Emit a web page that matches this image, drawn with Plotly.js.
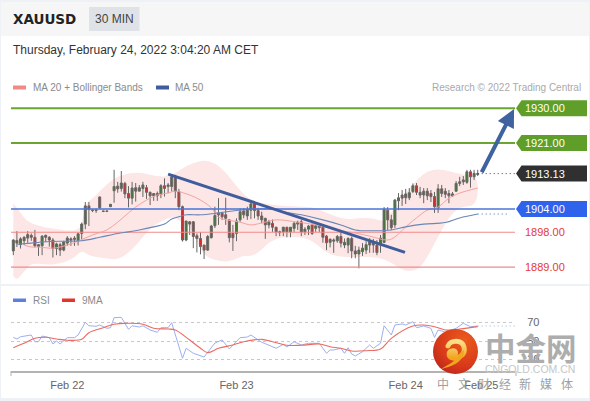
<!DOCTYPE html>
<html><head><meta charset="utf-8">
<script src="https://cdn.plot.ly/plotly-3.0.0.min.js"></script>
<style>html,body{margin:0;padding:0;background:#eef1f5}#c{width:590px;height:401px}</style>
</head><body><div id="c"></div>
<script>
var barIdx=[];for(var n=0;n<130;n++)barIdx.push(n);
var highs=[1896.2,1898.3,1896.7,1897.0,1898.3,1897.7,1898.6,1895.0,1897.2,1897.4,1897.0,1896.5,1895.3,1895.3,1895.8,1897.0,1896.7,1897.0,1897.9,1900.5,1905.8,1905.8,1903.9,1904.1,1907.2,1903.5,1903.5,1905.3,1914.1,1911.0,1913.8,1911.0,1909.9,1911.0,1910.7,1910.2,1911.0,1910.2,1908.5,1908.0,1908.5,1910.4,1911.9,1910.7,1912.9,1912.8,1909.2,1904.9,1900.9,1900.9,1900.9,1897.7,1898.0,1894.7,1897.3,1899.9,1904.6,1906.8,1903.3,1906.9,1901.2,1899.9,1901.6,1904.2,1904.2,1904.6,1905.9,1905.9,1904.3,1903.3,1901.7,1901.2,1901.3,1899.4,1898.4,1899.4,1899.4,1899.3,1900.7,1901.0,1901.2,1899.3,1899.9,1900.3,1899.9,1900.3,1899.4,1897.3,1896.4,1896.4,1897.3,1897.9,1896.4,1896.7,1896.9,1894.5,1894.3,1895.2,1895.7,1896.5,1896.3,1896.0,1897.3,1904.5,1904.5,1902.5,1906.6,1908.1,1908.9,1909.2,1909.4,1910.6,1910.7,1909.7,1909.4,1909.4,1908.9,1908.4,1910.4,1910.2,1909.4,1908.9,1908.4,1911.2,1912.3,1912.5,1914.1,1914.1,1914.1,1914.1];
var lows=[1892.1,1894.2,1893.8,1894.7,1895.3,1895.8,1894.1,1891.9,1892.1,1895.5,1894.3,1891.5,1892.1,1891.9,1893.1,1894.5,1894.5,1894.5,1894.6,1896.2,1898.8,1899.6,1903.2,1903.0,1904.1,1903.2,1903.2,1904.5,1905.6,1908.2,1908.5,1906.8,1904.4,1905.2,1905.9,1908.6,1907.1,1906.6,1905.0,1906.1,1906.1,1906.8,1907.2,1908.1,1908.5,1906.8,1903.7,1895.6,1895.7,1897.3,1893.9,1892.8,1892.3,1891.1,1893.2,1896.4,1899.1,1899.9,1901.2,1899.9,1895.4,1893.2,1895.7,1900.7,1901.6,1901.2,1901.4,1901.6,1901.2,1900.3,1896.3,1899.0,1898.1,1897.0,1897.0,1897.0,1896.7,1896.7,1898.1,1898.6,1897.0,1897.3,1897.3,1897.3,1898.1,1898.1,1895.3,1893.4,1894.1,1892.7,1895.3,1894.1,1893.9,1892.6,1891.3,1891.3,1888.7,1891.9,1892.4,1892.7,1892.7,1892.1,1892.7,1895.2,1898.6,1898.6,1899.1,1903.7,1904.8,1905.3,1906.3,1908.1,1907.6,1906.8,1905.5,1906.3,1905.8,1903.0,1903.0,1907.1,1906.8,1905.5,1907.1,1908.4,1909.9,1910.2,1910.5,1909.5,1911.5,1912.5];
var opens=[1893.2,1895.9,1894.8,1895.8,1896.5,1897.2,1896.7,1894.8,1894.5,1897.2,1896.7,1896.0,1893.8,1894.8,1893.4,1895.2,1896.3,1896.5,1895.8,1897.7,1900.1,1904.8,1903.6,1903.6,1907.1,1903.5,1903.5,1904.6,1908.7,1909.9,1909.3,1910.6,1908.0,1906.8,1909.5,1908.6,1909.3,1909.5,1908.3,1908.0,1907.4,1907.8,1910.0,1909.8,1909.8,1912.1,1908.5,1904.6,1896.0,1900.7,1900.7,1897.1,1896.4,1894.7,1893.4,1896.6,1899.7,1902.5,1902.9,1902.5,1901.2,1897.7,1897.7,1901.2,1903.5,1902.2,1903.7,1905.3,1903.6,1902.2,1901.6,1899.9,1900.3,1899.3,1897.9,1898.1,1899.3,1898.1,1899.0,1900.1,1900.7,1898.1,1898.8,1899.9,1899.0,1899.7,1899.3,1897.0,1895.4,1895.7,1895.8,1896.9,1894.7,1894.7,1896.4,1893.2,1892.4,1893.0,1893.4,1894.7,1895.4,1894.7,1894.7,1895.4,1903.7,1901.2,1899.9,1906.1,1907.6,1906.9,1906.9,1908.5,1910.0,1908.3,1907.6,1908.6,1908.0,1907.2,1904.3,1909.2,1908.6,1907.4,1907.4,1908.6,1910.6,1911.0,1910.9,1913.6,1912.3,1912.9];
var closes=[1896.0,1895.2,1896.3,1896.7,1897.4,1896.7,1894.5,1894.3,1897.0,1896.7,1896.0,1893.8,1895.0,1893.4,1895.5,1896.5,1896.0,1896.2,1897.6,1900.1,1904.8,1903.9,1903.7,1903.7,1904.3,1903.4,1903.4,1905.2,1909.8,1909.2,1910.7,1907.9,1906.8,1909.4,1908.6,1909.5,1910.2,1908.3,1907.4,1907.4,1908.0,1910.0,1909.3,1910.2,1912.3,1908.5,1904.6,1896.0,1900.9,1900.1,1896.9,1896.4,1894.3,1893.4,1896.9,1899.6,1902.3,1902.9,1902.0,1901.6,1896.6,1896.6,1900.9,1903.3,1902.5,1903.7,1905.3,1903.6,1902.2,1901.2,1899.9,1900.7,1899.3,1898.1,1898.1,1899.3,1898.1,1899.3,1900.3,1900.6,1898.1,1898.8,1899.6,1897.7,1899.7,1899.2,1896.7,1895.3,1896.2,1896.0,1896.9,1895.2,1895.4,1896.4,1893.2,1892.4,1893.4,1893.9,1894.8,1895.6,1894.7,1892.8,1896.5,1903.9,1901.2,1899.2,1906.3,1906.9,1906.8,1907.9,1908.2,1910.0,1908.3,1907.6,1908.6,1907.4,1907.2,1904.6,1909.2,1908.0,1907.8,1908.0,1907.9,1910.6,1911.0,1911.5,1913.6,1912.3,1913.2,1913.13];

var upperIdx=[0,2,4,8,12,16,18,19,20,22,24,28,32,36,40,44,47,50,53,56,59,62,65,69,73,79,83,87,92,96,100,103,105,107,109,112,115,118,121,125,129];
var upperBand=[1905.5,1903.0,1900.6,1899.4,1898.8,1898.3,1898.8,1899.6,1905.5,1906.6,1908.6,1912.0,1913.3,1913.4,1912.3,1912.5,1914.6,1915.9,1916.6,1915.9,1913.5,1909.9,1906.8,1905.5,1905.0,1904.6,1904.6,1903.0,1901.2,1901.7,1901.7,1900.6,1903.2,1905.5,1908.1,1911.5,1913.8,1914.3,1913.8,1912.8,1912.8];
var lowerIdx=[0,1,3,5,9,13,17,19,21,25,29,33,36,39,43,45,46,49,52,54,58,61,64,66,69,71,75,81,84,87,90,96,101,105,107,110,113,115,118,121,124,129];
var lowerBand=[1886.7,1885.7,1887.8,1890.1,1889.6,1889.8,1891.4,1893.4,1891.9,1891.4,1890.8,1893.4,1896.8,1899.9,1901.7,1901.9,1900.9,1899.9,1893.4,1891.4,1890.4,1890.6,1892.1,1891.7,1893.4,1895.5,1896.9,1896.7,1895.2,1892.7,1891.7,1891.6,1891.7,1890.3,1888.8,1887.8,1888.8,1891.6,1896.8,1901.9,1904.5,1905.0];
var ma20Idx=[3,5,7,11,15,18,22,26,29,32,34,37,40,43,45,49,52,55,57,63,66,69,73,79,84,90,95,99,104,106,109,112,115,118,121,124,129];
var ma20=[1894.7,1894.2,1894.2,1893.9,1894.7,1895.7,1897.3,1898.6,1900.6,1903.0,1904.5,1906.3,1907.6,1908.1,1908.6,1907.6,1906.3,1904.3,1901.9,1900.6,1899.9,1900.4,1901.2,1900.6,1899.9,1898.6,1897.8,1897.0,1896.0,1896.8,1899.4,1901.7,1903.7,1904.5,1906.8,1908.1,1909.4];
var ma50Idx=[1,5,10,15,19,24,29,32,35,39,42,44,46,48,52,57,62,67,72,75,80,86,91,95,101,105,109,114,120,124,129];
var ma50=[1894.9,1895.2,1895.6,1895.7,1895.8,1896.7,1897.7,1898.1,1898.6,1899.4,1900.1,1901.4,1902.0,1902.5,1902.5,1903.0,1903.6,1904.0,1904.0,1903.3,1902.5,1901.2,1899.9,1898.6,1898.4,1898.6,1899.4,1900.1,1900.5,1901.7,1902.7];

var rsiIdx=[0,1,2,5,6,7,8,10,11,12,13,15,17,18,20,21,23,24,26,27,28,30,32,33,35,36,38,40,41,43,44,45,47,48,50,53,56,58,60,63,65,66,69,70,73,75,76,78,80,82,85,87,88,89,91,92,93,94,95,97,99,100,102,103,105,106,108,109,111,112,114,116,117,118,120,123,125,127,129];
var rsi=[54.0,52.2,54.6,56.5,49.2,49.2,55.4,53.6,46.8,50,46.8,53.6,53.6,56.5,70.2,66.5,65.9,67.3,63.7,64.4,75.2,75.6,62.6,66.5,65.1,66.5,61.9,59.4,64.4,64.4,69.8,56.5,31.3,42.1,36.7,32.7,47.8,51.1,41.4,53.6,54.3,56.5,48.6,47.1,42.1,46.4,43.5,49.2,45.7,47.5,47.5,36.7,40.3,40.3,42.1,36.7,42.8,35.9,33.8,38.4,45.7,42.1,47.5,66.5,56.5,67.3,68.4,67.3,70.9,64.4,66.2,63.7,54,61.9,59.7,63.7,69.1,65.5,66.2];
var maRsiIdx=[0,3,6,9,12,15,19,21,25,28,31,36,39,43,45,49,52,54,57,61,64,69,72,76,80,85,88,91,94,98,102,105,111,114,118,120,124,129];
var maRsi=[42.8,47.5,52.9,54,52.2,50.8,51.8,59,64.4,68.1,69.1,68.1,63.7,63,61.9,51.1,42.1,37.4,42.1,45.7,49.2,51.8,49.2,45.4,45.4,46.8,43.8,42.1,39.2,39.5,41.4,52.9,66.2,67.3,64.4,61.9,63,65.5];

var greenLevels=[1930,1921];
var redLevels=[1898,1889];
var blueLevel=1904;
var lastPrice=1913.13;
var trendIdx=[43,108.8];
var trendPrice=[1913.0,1892.8];
var tickIdx=[15,62,109,130];
var tickLabels=['Feb 22','Feb 23','Feb 24','Feb 25'];

var xMin=-0.64,xMax=139.36;
function px(x){return x/590}
function py(y){return 1-y/401}
var FONT='"Liberation Sans",Arial,sans-serif';
var lvlHalf=8/3.877;

function hline(y,color,w,dash,x0,x1){return {x:[x0==null?xMin:x0,x1==null?xMax:x1],y:[y,y],mode:'lines',xaxis:'x',yaxis:'y',hoverinfo:'skip',showlegend:false,line:{color:color,width:w,dash:dash||'solid'}}}

var traces=[];
redLevels.forEach(function(v){traces.push(hline(v,'#f08a8a',1.2))});
traces.push({type:'candlestick',x:barIdx,open:opens,high:highs,low:lows,close:closes,xaxis:'x',yaxis:'y',whiskerwidth:0,showlegend:false,hoverinfo:'skip',
 increasing:{fillcolor:'#3d7a2c',line:{color:'#666666',width:1}},decreasing:{fillcolor:'#c9302c',line:{color:'#666666',width:1}}});
traces.push({x:ma20Idx,y:ma20,mode:'lines',line:{color:'#f4a3a0',width:1,shape:'spline'},xaxis:'x',yaxis:'y',hoverinfo:'skip',showlegend:false});
traces.push({x:ma50Idx,y:ma50,mode:'lines',line:{color:'#6a87b8',width:1.1,shape:'spline'},xaxis:'x',yaxis:'y',hoverinfo:'skip',showlegend:false});
greenLevels.forEach(function(v){traces.push(hline(v,'#6aa532',2))});
traces.push(hline(blueLevel,'#4a74d8',1.5));
traces.push({x:trendIdx,y:trendPrice,mode:'lines',line:{color:'#3f5d9c',width:3},xaxis:'x',yaxis:'y',hoverinfo:'skip',showlegend:false});
traces.push(hline(lastPrice,'#444',1,'1px,3px',barIdx[barIdx.length-1],xMax));
traces.push(hline(ma50[ma50.length-1],'#4a6aa8',1,'1px,3px',barIdx[barIdx.length-1],xMax-1.5));
traces.push({x:rsiIdx,y:rsi,mode:'lines',line:{color:'#9db0f0',width:1},xaxis:'x2',yaxis:'y2',hoverinfo:'skip',showlegend:false});
traces.push({x:maRsiIdx,y:maRsi,mode:'lines',line:{color:'#ec6a60',width:1.1,shape:'spline'},xaxis:'x2',yaxis:'y2',hoverinfo:'skip',showlegend:false});
traces.push({x:[rsiIdx[rsiIdx.length-1],xMax],y:[rsi[rsi.length-1],rsi[rsi.length-1]],mode:'lines',line:{color:'#9db0f0',width:1,dash:'1px,3px'},xaxis:'x2',yaxis:'y2',hoverinfo:'skip',showlegend:false});

function rect(x0,y0,x1,y1,color,layer){return {type:'rect',xref:'paper',yref:'paper',x0:px(x0),x1:px(x1),y0:py(y1),y1:py(y0),fillcolor:color,line:{width:0},layer:layer||'below'}}
function tag(level,color){
 var a=px(516),b=px(521.5),c=px(587),t=level+lvlHalf,u=level-lvlHalf;
 return {type:'path',xref:'paper',yref:'y',path:'M'+a+','+level+' L'+b+','+t+' L'+c+','+t+' L'+c+','+u+' L'+b+','+u+' Z',fillcolor:color,line:{width:0},layer:'above'};
}
// Bollinger envelope: a below-layer shape in data coordinates so candles sit on top
function bandPath(){
 var xs=upperIdx.concat(lowerIdx.slice().reverse()),ys=upperBand.concat(lowerBand.slice().reverse());
 var d='M'+xs[0]+','+ys[0];
 for(var i=1;i<xs.length-1;i++){
  d+=' Q'+xs[i]+','+ys[i]+' '+((xs[i]+xs[i+1])/2)+','+((ys[i]+ys[i+1])/2);
 }
 d+=' L'+xs[xs.length-1]+','+ys[ys.length-1]+' Z';
 return d;
}
var shapes=[
 rect(1,2,589,36,'#f6f6f6'),
 rect(1,36,589,284,'#ffffff'),
 rect(1,286,589,398,'#ffffff'),
 {type:'path',xref:'x',yref:'y',path:bandPath(),fillcolor:'#fce6e6',line:{width:0},layer:'below'},
 rect(89,7,139.5,31,'#dfe2e7'),
 rect(13,85.5,26,89.5,'#f08a84'),
 rect(156,85.5,169,89.5,'#3f5d9c'),
 rect(13,298.5,26,302,'#5f7fe0'),
 rect(62,298.5,75,302,'#e5342a'),
 rect(10.5,371,11.5,376,'#b3b3b3','above'),
 rect(515.5,371,516.5,376,'#b3b3b3','above'),
 tag(greenLevels[0],'#5f9e28'),
 tag(greenLevels[1],'#5f9e28'),
 tag(lastPrice,'#303030'),
 tag(blueLevel,'#2f63ec')
];

function txt(x,y,text,size,color,anchor,family){
 return {xref:'paper',yref:'paper',x:px(x),y:py(y),text:text,showarrow:false,xanchor:anchor||'left',yanchor:'middle',font:{family:family||FONT,size:size,color:color},borderpad:0,borderwidth:0};
}
function priceLabel(level,text,color){return {xref:'paper',yref:'y',x:px(545),y:level,text:text,showarrow:false,xanchor:'center',yanchor:'middle',borderpad:0,font:{family:FONT,size:11,color:color}}}
var CJK='"Noto Sans CJK SC",sans-serif';
var ann=[
 txt(13,19,'<b>XAUUSD</b>',13.5,'#222222','left','"DejaVu Sans",sans-serif'),
 txt(114,19,'30 MIN',12,'#444','center'),
 txt(13,50,'Thursday, February 24, 2022 3:04:20 AM CET',12,'#333'),
 txt(33,87,'MA 20 + Bollinger Bands',10,'#8a8a8a'),
 txt(175,87,'MA 50',10,'#8a8a8a'),
 txt(581,87,'Research © 2022 Trading Central',10,'#aaaaaa','right'),
 txt(33,300,'RSI',10,'#8a8a8a'),
 txt(82,300,'9MA',10,'#8a8a8a'),
 priceLabel(greenLevels[0],greenLevels[0].toFixed(2),'#ffffff'),
 priceLabel(greenLevels[1],greenLevels[1].toFixed(2),'#ffffff'),
 priceLabel(lastPrice,lastPrice.toFixed(2),'#ffffff'),
 priceLabel(blueLevel,blueLevel.toFixed(2),'#ffffff'),
 priceLabel(redLevels[0],redLevels[0].toFixed(2),'#e53935'),
 priceLabel(redLevels[1],redLevels[1].toFixed(2),'#e53935'),
 {xref:'x',yref:'y',axref:'x',ayref:'y',x:139.1,y:1929.8,ax:129.9,ay:1913.1,text:'',showarrow:true,arrowhead:2,arrowsize:0.9,arrowwidth:4,arrowcolor:'#3f639e',standoff:0,startstandoff:0},
 txt(485,347,'<b>中金网</b>',30.5,'#adadad','left',CJK),
 txt(485,369,'CNGOLD.COM.CN',10.5,'#c6c6c6','left'),
];
'中文财经新媒体'.split('').forEach(function(ch,k){ann.push(txt(443+k*20.6,383,ch,12,'#a0a0a0','center',CJK))});

var logoSvg='<svg xmlns="http://www.w3.org/2000/svg" width="90" height="90" viewBox="0 0 90 90"><defs><radialGradient id="g" cx="0.7" cy="0.25" r="0.95"><stop offset="0" stop-color="#ea5a1c"/><stop offset="0.6" stop-color="#d83a1a"/><stop offset="1" stop-color="#b5201c"/></radialGradient><linearGradient id="s" x1="0" y1="0" x2="0" y2="1"><stop offset="0" stop-color="#fbe08a"/><stop offset="1" stop-color="#f2a51e"/></linearGradient></defs><circle cx="45" cy="45" r="45" fill="url(#g)"/><path d="M30 34 C34 22 58 20 62 36 C66 52 50 60 40 58 C30 56 30 46 38 44 C45 42 48 50 42 52" fill="none" stroke="url(#s)" stroke-width="10" stroke-linecap="round"/><path d="M62 42 C62 66 40 74 16 80 C32 70 48 64 52 50 Z" fill="#f2a51e"/></svg>';

var layout={
 width:590,height:401,autosize:false,margin:{l:0,r:0,t:0,b:0,pad:0},
 paper_bgcolor:'#eef1f5',plot_bgcolor:'rgba(0,0,0,0)',showlegend:false,boxgap:0.2,dragmode:false,
 xaxis:{domain:[px(11),px(515)],range:[xMin,xMax],anchor:'y',visible:false,rangeslider:{visible:false},showgrid:false,zeroline:false,fixedrange:true},
 yaxis:{domain:[py(285),py(80)],range:[1884.4,1937.27],anchor:'x',visible:false,showgrid:false,zeroline:false,fixedrange:true},
 xaxis2:{domain:[px(11),px(515)],range:[xMin,xMax],anchor:'y2',showgrid:false,zeroline:false,fixedrange:true,showline:true,linecolor:'#b3b3b3',linewidth:2,tickmode:'array',tickvals:tickIdx,ticktext:tickLabels,ticks:'outside',ticklen:3,tickcolor:'rgba(0,0,0,0)',tickfont:{family:FONT,size:11,color:'#666'},tickangle:0},
 yaxis2:{domain:[py(371),py(305)],range:[17.57,88.92],anchor:'x2',side:'right',showline:false,zeroline:false,fixedrange:true,showgrid:true,griddash:'dot',gridcolor:'#c8c8c8',gridwidth:1,tickmode:'array',tickvals:[70,50,30],ticktext:['70','50','30'],ticks:'outside',ticklen:9,tickcolor:'rgba(0,0,0,0)',tickfont:{family:FONT,size:11,color:'#666'}},
 shapes:shapes,annotations:ann,
 images:[{source:'data:image/svg+xml;base64,'+btoa(logoSvg),xref:'paper',yref:'paper',x:px(433),y:py(329),sizex:45/590,sizey:45/401,xanchor:'left',yanchor:'top',sizing:'stretch',layer:'above'}]
};
Plotly.newPlot('c',traces,layout,{staticPlot:true,displayModeBar:false});
</script></body></html>
